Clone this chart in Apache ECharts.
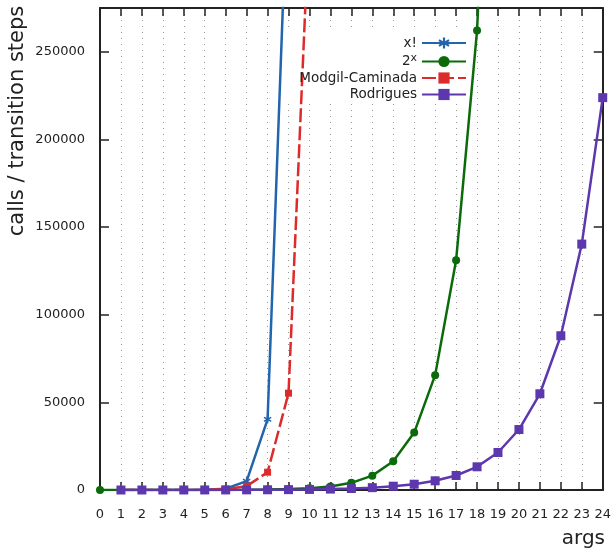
<!DOCTYPE html>
<html>
<head>
<meta charset="utf-8">
<script src="https://cdn.jsdelivr.net/npm/echarts@6/dist/echarts.min.js"></script>
<style>
  html, body { margin: 0; padding: 0; background: #fff; }
  #chart { width: 614px; height: 553px; }
</style>
</head>
<body>
<div id="chart"></div>
<script>
// args on the x axis
const args = [0, 1, 2, 3, 4, 5, 6, 7, 8, 9, 10, 11, 12, 13, 14, 15, 16, 17, 18, 19, 20, 21, 22, 23, 24]

// values per arg (null = no point)
const factorialValues = [null, 1, 2, 6, 24, 120, 720, 5040, 40320, 362880]
const powValues = [1, 2, 4, 8, 16, 32, 64, 128, 256, 512, 1024, 2048, 4096, 8192, 16384, 32768, 65536, 131072, 262144, 524288]
const modgilValues = [null, 1, 2, 8, 30, 120, 480, 2170, 10160, 55250, 330000]
const rodriguesValues = [null, 3, 6, 11, 18, 30, 48, 78, 125, 200, 330, 520, 840, 1350, 2170, 3300, 5250, 8280, 13240, 21400, 34500, 54900, 88000, 140300, 223850]

const yTicks = [0, 50000, 100000, 150000, 200000, 250000]

const toPoints = vals => vals
  .map((v, i) => [args[i], v])
  .filter(p => p[1] !== null)

const font = 'DejaVu Sans'
const axisColor = '#222'

const chart = echarts.init(document.getElementById('chart'))

const starPath = 'path://M4,0h2v3.6l3.1,-1.8 1,1.7 -3.1,1.8 3.1,1.8 -1,1.7 -3.1,-1.8v3.6h-2v-3.6l-3.1,1.8 -1,-1.7 3.1,-1.8 -3.1,-1.8 1,-1.7 3.1,1.8z'

const option = {
  animation: false,
  textStyle: { fontFamily: font },
  grid: { left: 100, right: 11, top: 8, bottom: 63 },
  legend: {
    orient: 'vertical',
    right: 142,
    top: 31,
    align: 'right',
    itemWidth: 44,
    itemHeight: 14,
    itemGap: 2.5,
    textStyle: {
      fontSize: 13.5,
      color: '#222',
      fontFamily: font,
      rich: {
        base: { fontSize: 13.5, color: '#222', fontFamily: font },
        sup: { fontSize: 11, color: '#222', fontFamily: font, verticalAlign: 'top', padding: [0, 0, 7, 0] }
      }
    },
    formatter: name => (name === '2x' ? '{base|2}{sup|x}' : name),
    data: ['x!', '2x', 'Modgil-Caminada', 'Rodrigues']
  },
  graphic: [
    {
      type: 'rect',
      z: 1,
      shape: { x: 284, y: 31, width: 188, height: 70 },
      style: { fill: '#fff' }
    },
    {
      type: 'text',
      x: 18,
      y: 121,
      rotation: Math.PI / 2,
      style: {
        text: 'calls / transition steps',
        fontSize: 21,
        fontFamily: font,
        fill: '#222',
        textAlign: 'center',
        textVerticalAlign: 'middle'
      }
    },
    {
      type: 'text',
      right: 9,
      top: 529,
      style: { text: 'args', fontSize: 20, fontFamily: font, fill: '#222' }
    }
  ],
  xAxis: [
    {
      type: 'value',
      min: 0,
      max: 24,
      interval: 1,
      position: 'bottom',
      axisLine: { onZero: false, lineStyle: { color: axisColor, width: 2 } },
      axisTick: { inside: true, length: 8, lineStyle: { color: axisColor, width: 1.5 } },
      axisLabel: { fontSize: 13, color: '#222', margin: 18 },
      splitLine: { show: true, lineStyle: { color: '#999', width: 1, type: [1, 5] } }
    },
    {
      type: 'value',
      min: 0,
      max: 24,
      interval: 1,
      position: 'top',
      axisLine: { onZero: false, lineStyle: { color: axisColor, width: 2 } },
      axisTick: { inside: true, length: 8, lineStyle: { color: axisColor, width: 1.5 } },
      axisLabel: { show: false },
      splitLine: { show: false }
    }
  ],
  yAxis: [
    {
      type: 'value',
      min: 0,
      max: 275000,
      interval: 50000,
      position: 'left',
      axisLine: { show: true, onZero: false, lineStyle: { color: axisColor, width: 2 } },
      axisTick: { show: true, inside: true, length: 9, lineStyle: { color: axisColor, width: 1.5 } },
      axisLabel: {
        fontSize: 13,
        color: '#222',
        margin: 15,
        showMaxLabel: false,
        formatter: v => (yTicks.includes(v) ? String(v) : '')
      },
      splitLine: { show: false }
    },
    {
      type: 'value',
      min: 0,
      max: 275000,
      interval: 50000,
      position: 'right',
      axisLine: { show: true, onZero: false, lineStyle: { color: axisColor, width: 2 } },
      axisTick: { show: true, inside: true, length: 9, lineStyle: { color: axisColor, width: 1.5 } },
      axisLabel: { show: false },
      splitLine: { show: false }
    }
  ],
  series: [
    {
      name: 'x!',
      type: 'line',
      data: toPoints(factorialValues),
      color: '#2265ad',
      symbol: starPath,
      symbolSize: 8,
      showAllSymbol: true,
      lineStyle: { width: 2.5 }
    },
    {
      name: '2x',
      type: 'line',
      data: toPoints(powValues),
      color: '#0b6b0b',
      symbol: 'circle',
      symbolSize: 8,
      showAllSymbol: true,
      lineStyle: { width: 2.5 }
    },
    {
      name: 'Modgil-Caminada',
      type: 'line',
      data: toPoints(modgilValues),
      color: '#dd2b2b',
      symbol: 'rect',
      symbolSize: 7,
      showAllSymbol: true,
      lineStyle: { width: 2.5, type: [14, 4] }
    },
    {
      name: 'Rodrigues',
      type: 'line',
      data: toPoints(rodriguesValues),
      color: '#5c37ad',
      symbol: 'rect',
      symbolSize: 9,
      showAllSymbol: true,
      lineStyle: { width: 2.5 }
    }
  ]
}

chart.setOption(option)
</script>
</body>
</html>
